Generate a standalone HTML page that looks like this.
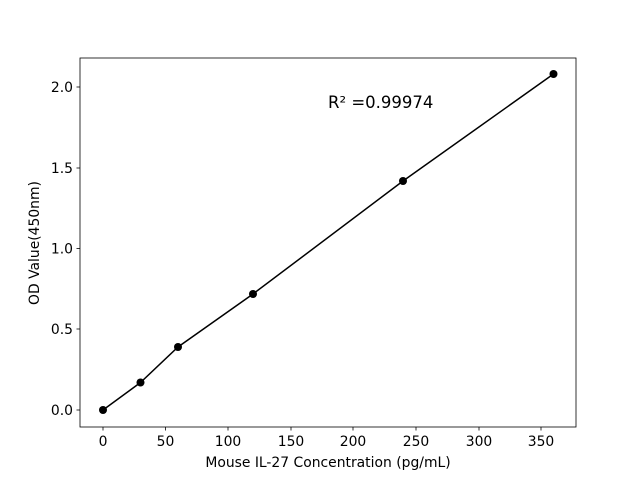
<!DOCTYPE html>
<html><head><meta charset="utf-8"><style>body{margin:0;background:#fff}svg{display:block}text{font-family:"DejaVu Sans","Liberation Sans",sans-serif;font-size:13.9px;fill:#000}</style></head>
<body>
<svg width="640" height="480" viewBox="0 0 640 480">
<rect x="80" y="58" width="496" height="369" fill="none" stroke="#000" stroke-width="0.8"/>
<g stroke="#000" stroke-width="0.8">
<line x1="103" y1="427" x2="103" y2="430.5"/><line x1="165.5" y1="427" x2="165.5" y2="430.5"/><line x1="228" y1="427" x2="228" y2="430.5"/><line x1="291" y1="427" x2="291" y2="430.5"/><line x1="353" y1="427" x2="353" y2="430.5"/><line x1="416" y1="427" x2="416" y2="430.5"/><line x1="479" y1="427" x2="479" y2="430.5"/><line x1="541" y1="427" x2="541" y2="430.5"/>
<line x1="76.5" y1="410" x2="80" y2="410"/><line x1="76.5" y1="329" x2="80" y2="329"/><line x1="76.5" y1="248.5" x2="80" y2="248.5"/><line x1="76.5" y1="168" x2="80" y2="168"/><line x1="76.5" y1="87" x2="80" y2="87"/>
</g>
<g text-anchor="middle">
<text x="103" y="446">0</text><text x="165.5" y="446">50</text><text x="228" y="446">100</text><text x="291" y="446">150</text><text x="353" y="446">200</text><text x="416" y="446">250</text><text x="479" y="446">300</text><text x="541" y="446">350</text>
<text x="328" y="467">Mouse IL-27 Concentration (pg/mL)</text>
</g>
<g text-anchor="end">
<text x="73" y="415">0.0</text><text x="73" y="334">0.5</text><text x="73" y="253.5">1.0</text><text x="73" y="173">1.5</text><text x="73" y="92">2.0</text>
</g>
<text x="0" y="0" text-anchor="middle" transform="translate(39,243) rotate(-90)">OD Value(450nm)</text>
<text x="328" y="108" style="font-size:16.5px">R² =0.99974</text>
<polyline points="103,410 140.5,382.5 178,347 253,294 403,181 553.5,74" fill="none" stroke="#000" stroke-width="1.5"/>
<g fill="#000">
<circle cx="103" cy="410" r="4"/><circle cx="140.5" cy="382.5" r="4"/><circle cx="178" cy="347" r="4"/><circle cx="253" cy="294" r="4"/><circle cx="403" cy="181" r="4"/><circle cx="553.5" cy="74" r="4"/>
</g>
</svg>
</body></html>
